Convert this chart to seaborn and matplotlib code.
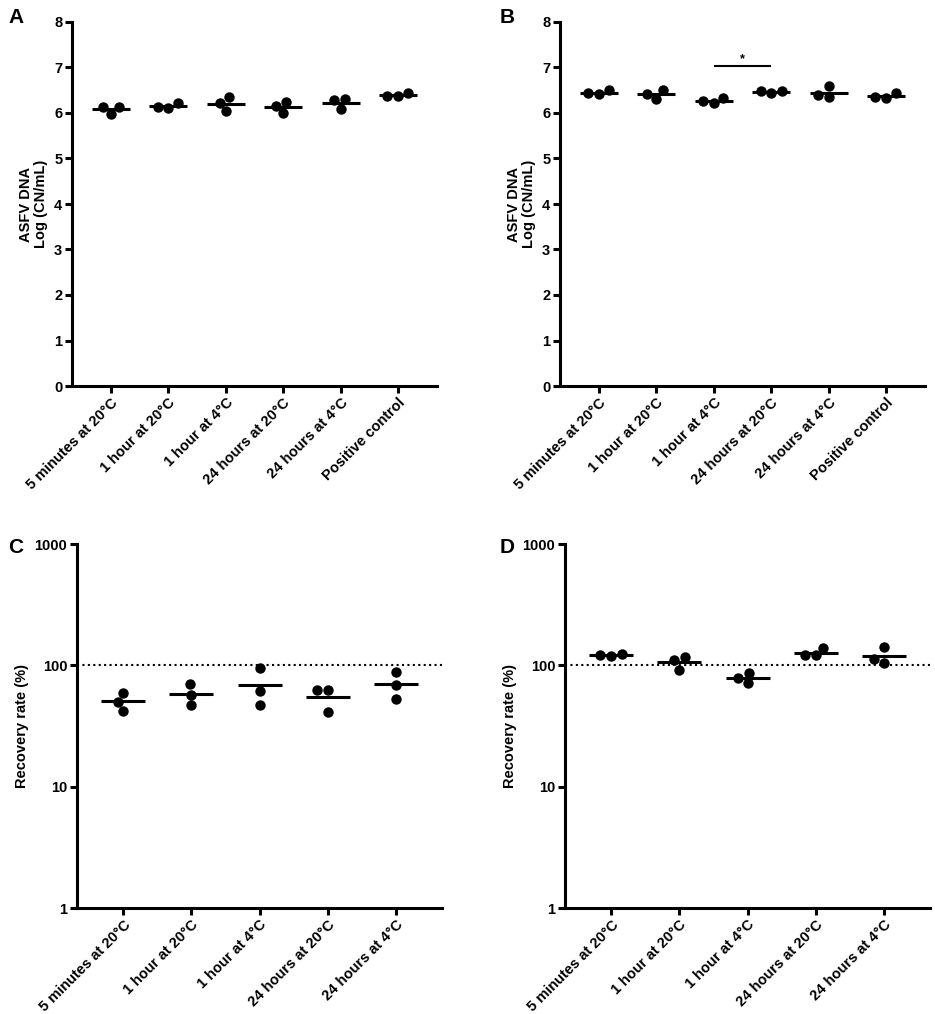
import numpy as np
import pandas as pd
import matplotlib
matplotlib.use('Agg')
import matplotlib.pyplot as plt
import seaborn as sns
from matplotlib.ticker import FixedLocator, NullLocator, FixedFormatter

# conditions tested
conditions = ["5 minutes at 20°C", "1 hour at 20°C", "1 hour at 4°C",
              "24 hours at 20°C", "24 hours at 4°C"]
conditions_ctrl = conditions + ["Positive control"]

# ASFV DNA, log (CN/mL), three replicates per condition
a_values = [[5.98, 6.13, 6.13], [6.11, 6.21, 6.13], [6.35, 6.04, 6.23],
            [6.24, 5.99, 6.16], [6.31, 6.09, 6.28], [6.37, 6.44, 6.38]]
b_values = [[6.42, 6.50, 6.43], [6.31, 6.50, 6.41], [6.21, 6.32, 6.27],
            [6.43, 6.49, 6.49], [6.36, 6.59, 6.40], [6.34, 6.43, 6.36]]

# recovery rate (%)
c_values = [[59.3, 42.1, 50.0], [69.8, 57.4, 46.9], [95.7, 61.5, 47.5],
            [62.3, 62.3, 41.4], [88.2, 69.4, 53.2]]
d_values = [[118.6, 123.1, 120.8], [117.1, 92.1, 109.9], [87.0, 71.6, 79.2],
            [120.8, 139.7, 120.8], [141.5, 104.5, 113.5]]

W, H = 935, 1014
FS = 10.5


def px_axes(fig, left, right, top, bottom):
    return fig.add_axes([left / W, 1 - bottom / H, (right - left) / W, (bottom - top) / H])


def to_long(labels, values):
    rows = []
    for lab, vals in zip(labels, values):
        for v in vals:
            rows.append({'condition': lab, 'value': v})
    return pd.DataFrame(rows)


def draw_panel(ax, labels, values, ylabel, bar_width):
    df = to_long(labels, values)
    sns.swarmplot(data=df, x='condition', y='value', order=labels, color='black',
                  size=7.5, ax=ax, zorder=3)
    sns.pointplot(data=df, x='condition', y='value', order=labels, estimator='mean',
                  errorbar=None, linestyle='none', marker='_', markersize=bar_width,
                  markeredgewidth=2.2, color='black', ax=ax, zorder=4)
    ax.set_xlim(-0.68, len(labels) - 0.32)
    ax.set_xlabel('')
    ax.set_ylabel(ylabel, fontsize=FS, fontweight='bold', linespacing=1.1, color='black')
    for s in ['top', 'right']:
        ax.spines[s].set_visible(False)
    for s in ['left', 'bottom']:
        ax.spines[s].set_linewidth(2.2)
        ax.spines[s].set_color('black')
    ax.tick_params(width=2.2, length=5, labelsize=FS, color='black', labelcolor='black', pad=2)
    ax.set_xticks(range(len(labels)))
    ax.set_xticklabels(labels, rotation=45, ha='right', rotation_mode='anchor',
                       fontweight='bold', color='black')


sns.set_theme(style='ticks')
plt.rcParams['font.family'] = ['Liberation Sans', 'DejaVu Sans']
plt.rcParams['font.weight'] = 'bold'
plt.rcParams['text.color'] = 'black'
plt.rcParams['axes.labelcolor'] = 'black'
plt.rcParams['xtick.color'] = 'black'
plt.rcParams['ytick.color'] = 'black'

fig = plt.figure(figsize=(W / 100, H / 100), dpi=100)

ax_a = px_axes(fig, 72, 437, 22, 386)
ax_b = px_axes(fig, 560, 925, 22, 386)
ax_c = px_axes(fig, 77, 442, 544, 908)
ax_d = px_axes(fig, 565, 930, 544, 908)

dna_label = "ASFV DNA\nLog (CN/mL)"
for ax, vals in [(ax_a, a_values), (ax_b, b_values)]:
    draw_panel(ax, conditions_ctrl, vals, dna_label, 28)
    ax.set_ylim(0, 8)
    ax.set_yticks(range(0, 9))
    ax.set_yticklabels([str(i) for i in range(0, 9)], fontweight='bold', color='black')

# significance between 1 hour at 4°C and 24 hours at 20°C
ax_b.plot([2, 3], [7.04, 7.04], color='black', lw=1.5, solid_capstyle='butt')
ax_b.text(2.5, 7.06, '*', ha='center', va='bottom', fontsize=9, fontweight='bold')

for ax, vals in [(ax_c, c_values), (ax_d, d_values)]:
    draw_panel(ax, conditions, vals, "Recovery rate (%)", 32)
    ax.set_yscale('log')
    ax.set_ylim(1, 1000)
    ax.yaxis.set_major_locator(FixedLocator([1, 10, 100, 1000]))
    ax.yaxis.set_major_formatter(FixedFormatter(['1', '10', '100', '1000']))
    ax.yaxis.set_minor_locator(NullLocator())
    ax.axhline(100, color='black', lw=1.5, linestyle=(0, (1, 1.6)), zorder=2)
    for t in ax.get_yticklabels():
        t.set_fontweight('bold')
        t.set_color('black')

for letter, x, y in [('A', 8, 8), ('B', 500, 8), ('C', 8, 538), ('D', 500, 538)]:
    fig.text(x / W, 1 - y / H, letter, fontsize=15, fontweight='bold', va='top', ha='left')

fig.savefig('out.png', dpi=100)
